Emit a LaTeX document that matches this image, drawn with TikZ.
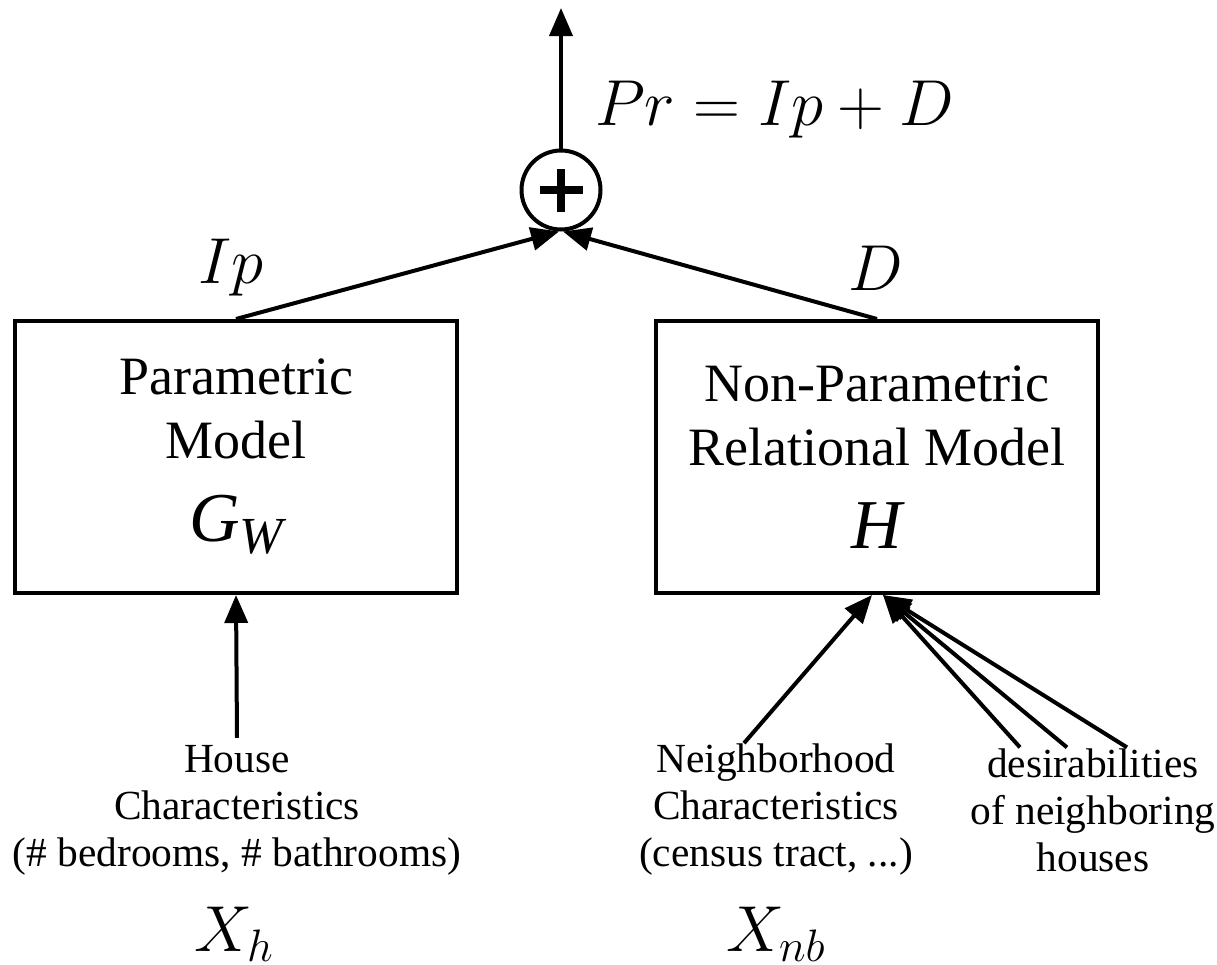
\RequirePackage{fix-cm}
\documentclass[tikz,border=0pt]{standalone}
\usepackage{fontspec}
\setmainfont{Liberation Serif}
\usetikzlibrary{arrows.meta}

\newcommand{\boxvar}[1]{{\fontsize{35}{38}\selectfont\itshape #1}}
\newcommand{\boxsub}[1]{\raisebox{-6pt}{\fontsize{26}{28}\selectfont\itshape #1}}

\begin{document}
\begin{tikzpicture}[
    x=0.5pt, y=-0.5pt,
    model/.style={draw=black, line width=2pt, minimum width=221pt, minimum height=136pt, align=center, font=\fontsize{27}{32}\selectfont},
    feat/.style={align=center, font=\fontsize{20.7}{23.5}\selectfont},
    var/.style={font=\fontsize{32.5}{36}\selectfont},
    link/.style={line width=2pt, -{Triangle[length=14pt, width=11.5pt]}},
    sum/.style={circle, draw=black, line width=2pt, minimum size=39.5pt, inner sep=0pt,
        path picture={
            \draw[line width=4pt] ([xshift=-10.75pt]path picture bounding box.center) -- ([xshift=10.75pt]path picture bounding box.center);
            \draw[line width=4pt] ([yshift=-10.75pt]path picture bounding box.center) -- ([yshift=10.75pt]path picture bounding box.center);
        }}
]
\useasboundingbox (0,0) rectangle (1217,965);

% --- output ---
\node[sum] (sum) at (561,190) {};
\coordinate (out) at (561,8);
\draw[link] (sum.north) -- (out);
\node[var, anchor=west] (pr) at (588,110) {$Pr = Ip + D$};

% --- models ---
\node[model] (param) at (236,457) {Parametric\\Model\\[9.5pt]\boxvar{G}\boxsub{W}};
\node[model] (nonparam) at (877,457) {Non-Parametric\\Relational Model\\[9.5pt]\boxvar{H}};

\node[var] (ip) at (231,268) {$Ip$};
\node[var] (d) at (876,268) {$D$};
\draw[link] (param.north) -- ([xshift=-1pt]sum.south);
\draw[link] (nonparam.north) -- ([xshift=1pt]sum.south);

% --- inputs ---
\node[feat] (house) at (237,810) {House\\Characteristics\\(\# bedrooms, \# bathrooms)};
\node[feat] (nbhd) at (776,810) {Neighborhood\\Characteristics\\(census tract, ...)};
\node[feat] (desir) at (1093,810) {desirabilities\\of neighboring\\houses};

\node[var, inner sep=1pt] (xh) at (234,934) {$X_h$};
\node[var, inner sep=1pt] (xnb) at (776,934) {$X_{nb}$};

\draw[link] (house.north) -- (param.south);
\draw[link] ([xshift=-16pt, yshift=-3pt]nbhd.north) -- ([xshift=-2.5pt]nonparam.south);
\foreach \dx in {-36.5,-13,17}
    \draw[link] ([xshift=\dx pt, yshift=-3pt]desir.north) -- ([xshift=3pt]nonparam.south);

\end{tikzpicture}
\end{document}
